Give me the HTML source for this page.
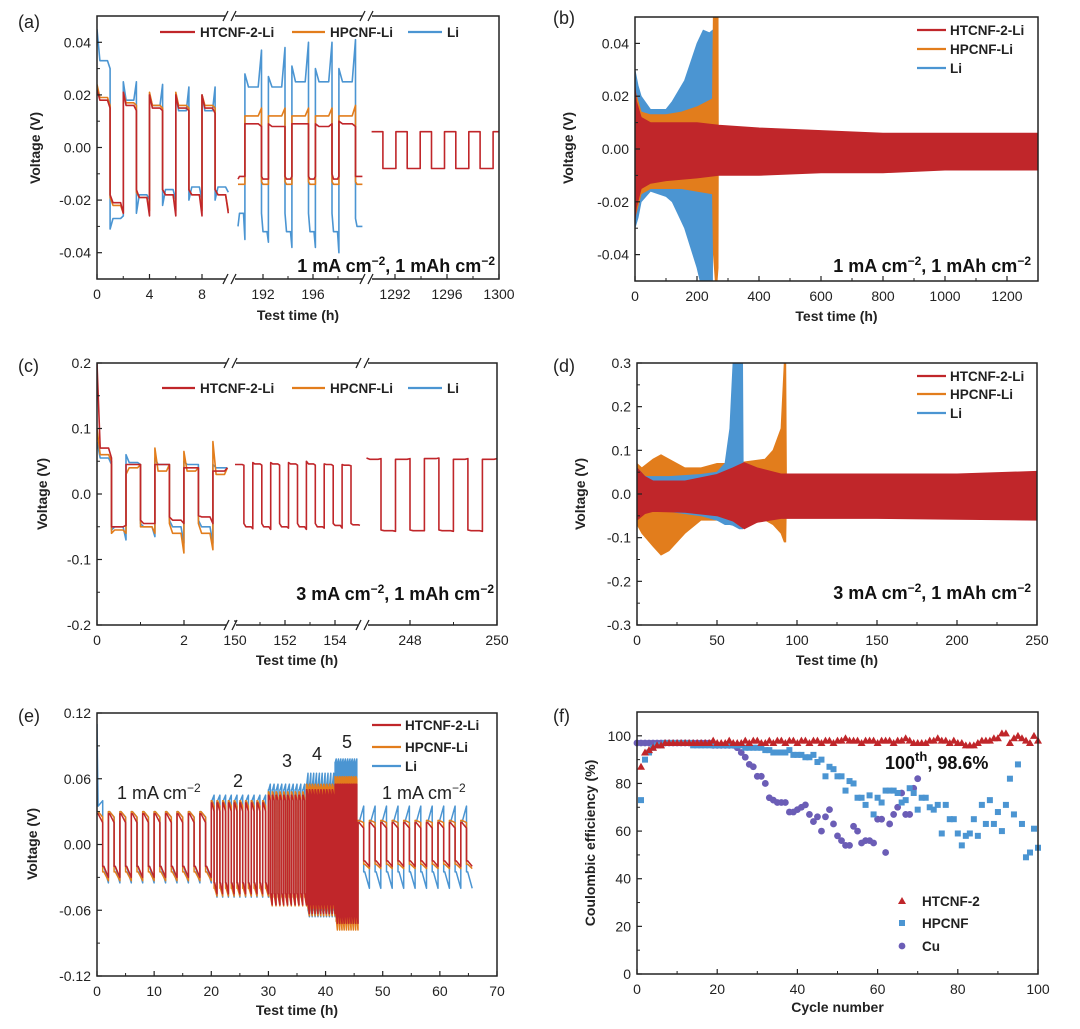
<!DOCTYPE html>
<html><head><meta charset="utf-8">
<style>
html,body{margin:0;padding:0;background:#fff;}
svg{display:block;font-family:"Liberation Sans",Arial,sans-serif;}
.tk{font-size:14px;fill:#222;}
.tt{font-size:14px;font-weight:bold;fill:#222;}
.lg{font-size:13.5px;font-weight:bold;fill:#222;}
.an{font-size:18px;font-weight:bold;fill:#111;}
.pl{font-size:18px;fill:#222;}
</style></head>
<body>
<svg id="fig" width="1080" height="1029" viewBox="0 0 1080 1029" xmlns="http://www.w3.org/2000/svg">
<rect width="1080" height="1029" fill="#fff"/>
<defs>
<clipPath id="ca"><rect x="97" y="16" width="402" height="264"/></clipPath>
<clipPath id="cb"><rect x="635" y="17" width="403" height="264"/></clipPath>
<clipPath id="cc"><rect x="97" y="363" width="400" height="262"/></clipPath>
<clipPath id="cd"><rect x="637" y="363" width="400" height="262"/></clipPath>
<clipPath id="ce"><rect x="97" y="713" width="400" height="263"/></clipPath>
</defs>
</svg>
<script>
// ---------- DATA ----------
const colHT='#c0262a', colHP='#e27d1c', colLi='#4b95d2', colCu='#6b5db6';
// panel a segment 1 (0-10 h), half-cycles [start, plateau, end]
const aHT1=[[0.022,0.018,0.015],[-0.018,-0.021,-0.025],[0.021,0.016,0.014],[-0.016,-0.019,-0.026],[0.020,0.015,0.014],[-0.016,-0.018,-0.026],[0.020,0.015,0.014],[-0.016,-0.018,-0.026],[0.020,0.015,0.013],[-0.016,-0.018,-0.025]];
const aHP1=[[0.024,0.019,0.016],[-0.019,-0.022,-0.025],[0.021,0.017,0.016],[-0.017,-0.019,-0.024],[0.021,0.016,0.015],[-0.016,-0.018,-0.024],[0.021,0.016,0.015],[-0.016,-0.018,-0.024],[0.020,0.016,0.015],[-0.016,-0.018,-0.024]];
const aLi1=[[0.045,0.033,0.030],[-0.031,-0.027,-0.026],[0.025,0.018,0.025],[-0.025,-0.018,-0.020],[0.020,0.016,0.024],[-0.022,-0.016,-0.020],[0.020,0.014,0.023],[-0.020,-0.015,-0.020],[0.020,0.014,0.023],[-0.020,-0.015,-0.017]];
// panel a segment 2 (190-200 h)
const aHT2=[[-0.012,-0.011,-0.011],[0.009,0.009,0.008],[-0.011,-0.012,-0.012],[0.009,0.008,0.008],[-0.011,-0.012,-0.011],[0.009,0.009,0.009],[-0.011,-0.012,-0.011],[0.009,0.008,0.009],[-0.010,-0.012,-0.011],[0.010,0.009,0.008],[-0.011,-0.011,-0.011]];
const aHP2=[[-0.014,-0.014,-0.014],[0.012,0.012,0.015],[-0.013,-0.014,-0.014],[0.012,0.012,0.015],[-0.013,-0.014,-0.014],[0.012,0.012,0.015],[-0.013,-0.014,-0.014],[0.012,0.012,0.015],[-0.013,-0.014,-0.014],[0.012,0.012,0.016],[-0.013,-0.014,-0.014]];
const aLi2=[[-0.030,-0.025,-0.035],[0.028,0.023,0.037],[-0.025,-0.032,-0.036],[0.027,0.023,0.038],[-0.025,-0.032,-0.038],[0.031,0.025,0.040],[-0.025,-0.032,-0.038],[0.030,0.025,0.040],[-0.025,-0.032,-0.040],[0.030,0.025,0.041],[-0.027,-0.030,-0.030]];
// panel a segment 3 (1290-1300 h)
const aHT3=[[0.006,0.006,0.006],[-0.008,-0.008,-0.008],[0.006,0.006,0.006],[-0.008,-0.008,-0.008],[0.006,0.006,0.006],[-0.008,-0.008,-0.008],[0.006,0.006,0.006],[-0.008,-0.008,-0.008],[0.006,0.006,0.006],[-0.008,-0.008,-0.008],[0.006,0.006,0.006]];
// panel b envelopes
const bHTt=[0,5,20,50,100,200,270,400,600,800,1000,1200,1300];
const bHTup=[0.024,0.018,0.012,0.010,0.010,0.010,0.009,0.008,0.007,0.006,0.006,0.006,0.006];
const bHTlo=[-0.027,-0.022,-0.015,-0.013,-0.012,-0.011,-0.010,-0.010,-0.009,-0.009,-0.008,-0.008,-0.008];
const bHPt=[0,20,50,100,150,200,250,253,262,268,269];
const bHPup=[0.022,0.014,0.013,0.013,0.014,0.016,0.019,0.055,0.055,0.055,0];
const bHPlo=[-0.026,-0.017,-0.015,-0.015,-0.015,-0.016,-0.017,-0.040,-0.055,-0.045,0];
const bLit=[0,10,20,50,100,120,140,160,200,220,240,250,252];
const bLiup=[0.030,0.024,0.020,0.015,0.015,0.018,0.022,0.026,0.040,0.045,0.044,0.045,0];
const bLilo=[-0.030,-0.026,-0.020,-0.016,-0.018,-0.020,-0.025,-0.030,-0.045,-0.055,-0.055,-0.050,0];
// panel c
const cHT1=[[0.200,0.070,0.055],[-0.050,-0.050,-0.048],[0.045,0.045,0.045],[-0.040,-0.045,-0.045],[0.045,0.045,0.045],[-0.035,-0.040,-0.045],[0.040,0.040,0.040],[-0.033,-0.035,-0.045],[0.035,0.035,0.040]];
const cHP1=[[0.100,0.060,0.050],[-0.060,-0.055,-0.060],[0.030,0.040,0.045],[-0.050,-0.050,-0.060],[0.070,0.035,0.045],[-0.045,-0.060,-0.090],[0.065,0.035,0.040],[-0.045,-0.060,-0.085],[0.080,0.030,0.040]];
const cLi1=[[0.080,0.055,0.045],[-0.055,-0.050,-0.070],[0.060,0.048,0.045],[-0.045,-0.050,-0.065],[0.055,0.045,0.045],[-0.040,-0.050,-0.075],[0.050,0.045,0.045],[-0.040,-0.050,-0.075],[0.045,0.040,0.040]];
const cHT2=[[0.045,0.045,0.044],[-0.045,-0.050,-0.053],[0.048,0.046,0.044],[-0.045,-0.050,-0.054],[0.048,0.046,0.044],[-0.045,-0.050,-0.052],[0.048,0.046,0.044],[-0.045,-0.050,-0.054],[0.050,0.046,0.044],[-0.045,-0.050,-0.052],[0.046,0.045,0.043],[-0.045,-0.048,-0.052],[0.045,0.044,0.043],[-0.045,-0.047,-0.048]];
const cHT3=[[0.055,0.053,0.054],[-0.055,-0.056,-0.057],[0.053,0.053,0.054],[-0.055,-0.056,-0.056],[0.054,0.054,0.055],[-0.055,-0.056,-0.057],[0.053,0.053,0.054],[-0.055,-0.056,-0.057],[0.053,0.053,0.054]];
// panel d envelopes
const dHTt=[0,5,10,30,50,60,67,75,90,100,150,200,250];
const dHTup=[0.060,0.040,0.030,0.030,0.045,0.060,0.072,0.060,0.046,0.046,0.046,0.046,0.052];
const dHTlo=[-0.060,-0.045,-0.040,-0.042,-0.050,-0.062,-0.080,-0.065,-0.056,-0.056,-0.056,-0.058,-0.060];
const dLit=[0,5,20,40,50,55,58,60,64,66,66.5];
const dLiup=[0.060,0.040,0.040,0.045,0.050,0.070,0.150,0.300,0.300,0.300,0];
const dLilo=[-0.060,-0.040,-0.040,-0.050,-0.060,-0.070,-0.070,-0.072,-0.080,-0.080,0];
const dHPt=[0,3,10,15,20,30,40,50,60,70,80,85,90,92,93,93.5];
const dHPup=[0.070,0.060,0.080,0.090,0.080,0.060,0.060,0.070,0.070,0.075,0.080,0.100,0.150,0.300,0.300,0];
const dHPlo=[-0.070,-0.090,-0.120,-0.140,-0.130,-0.090,-0.060,-0.060,-0.070,-0.070,-0.060,-0.070,-0.090,-0.110,-0.110,0];
// panel e: rate steps (mA cm-2), duration (h), per-series [posStart,posEnd,negStart,negEnd]
const eRates=[1,2,3,4,5,1];
const eHT=[[0.028,0.020,-0.020,-0.030],[0.038,0.030,-0.035,-0.045],[0.045,0.040,-0.045,-0.055],[0.050,0.045,-0.055,-0.063],[0.055,0.055,-0.065,-0.072],[0.020,0.015,-0.015,-0.020]];
const eHP=[[0.030,0.025,-0.025,-0.033],[0.040,0.035,-0.040,-0.047],[0.048,0.043,-0.048,-0.056],[0.055,0.052,-0.058,-0.065],[0.062,0.060,-0.070,-0.078],[0.022,0.020,-0.018,-0.022]];
const eLi=[[0.030,0.025,-0.020,-0.035],[0.040,0.045,-0.035,-0.048],[0.050,0.055,-0.045,-0.055],[0.055,0.065,-0.060,-0.066],[0.075,0.078,-0.070,-0.072],[0.020,0.035,-0.025,-0.040]];
const eInit=[0.035,0.040,0.110];
// panel f scatter
const fHT=[87,93,94,95,96,96,97,97,97,97,97,97,97,97,97,97,97,97,98,97,97,97,98,97,97,97,98,97,98,98,97,97,98,97,98,98,97,98,98,97,98,98,97,98,98,97,98,98,97,98,98,99,98,98,98,97,98,98,98,97,98,98,98,97,98,98,99,98,97,97,97,97,98,98,99,98,98,97,98,97,97,96,96,96,97,98,98,98,99,99,101,101,97,99,100,99,98,97,100,98];
const fHP=[73,90,93,95,96,96,97,97,97,97,97,97,97,96,96,96,96,96,96,96,96,96,96,96,96,96,95,95,95,95,95,94,94,93,93,93,93,94,92,92,92,91,91,92,89,90,83,87,86,83,83,77,81,80,74,74,71,75,67,74,72,77,77,77,76,72,73,78,76,69,74,74,70,69,71,59,71,65,65,59,54,58,59,65,58,71,63,73,63,68,60,71,82,67,88,63,49,51,61,53];
const fCu=[97,97,97,97,97,97,97,97,97,97,97,97,97,97,97,97,97,97,97,96,96,96,96,96,96,95,93,91,88,87,83,83,80,74,73,72,72,72,68,68,69,70,71,67,64,66,60,66,69,63,58,56,54,54,62,60,55,56,56,55,65,65,51,63,67,70,76,67,67,78,82];
const fTicksY=[0,20,40,60,80,100];
const fTicksX=[0,20,40,60,80,100];

// ---------- HELPERS ----------
const NS='http://www.w3.org/2000/svg';
const root=document.getElementById('fig');
function mk(tag,attrs,parent){const e=document.createElementNS(NS,tag);for(const k in attrs)e.setAttribute(k,attrs[k]);(parent||root).appendChild(e);return e;}
function ymapF(T,B,lo,hi){return v=>T+(hi-v)/(hi-lo)*(B-T);}
function linF(L,R,lo,hi){return t=>L+(t-lo)/(hi-lo)*(R-L);}

function drawWave(g,xm,ym,t0,posDur,negDur,halves,color,name){
  let d='',t=t0;
  halves.forEach((h,i)=>{
    const dur=h[0]>=0?posDur:negDur;const t1=t+dur;
    const pts=[[t,h[0]],[t+0.22*dur,h[1]],[t+0.8*dur,h[1]],[t1,h[2]]];
    pts.forEach((p,j)=>{d+=(i===0&&j===0?'M':'L')+xm(p[0]).toFixed(1)+','+ym(p[1]).toFixed(1);});
    t=t1;
  });
  const p=mk('path',{d:d,fill:'none',stroke:color,'stroke-width':1.6,'stroke-linejoin':'round'},g);
  
  
}
function drawEnv(g,xm,ym,ts,up,lo,color,name){
  let d='';
  ts.forEach((t,i)=>{d+=(i?'L':'M')+xm(t).toFixed(1)+','+ym(up[i]).toFixed(1);});
  for(let i=ts.length-1;i>=0;i--){d+='L'+xm(ts[i]).toFixed(1)+','+ym(lo[i]).toFixed(1);}
  const p=mk('path',{d:d+'Z',fill:color,stroke:color,'stroke-width':0.8},g);
  
  
}
function frame(id,L,R,T,B,yticks,ym,ylab,xticks,xm,xlab,minorX,minorY,titleX,titleY,ytitle,xtitleY,panelX,panelY){
  const g=mk('g',{});
  
  
  yticks.forEach((v,i)=>{
    const y=ym(v);
    const tk=mk('line',{x1:L,x2:L+5,y1:y,y2:y,stroke:'#222','stroke-width':1.2},g);
    
    
    const tx=mk('text',{x:L-6,y:y+5,'text-anchor':'end',class:'tk'},g);
    
    
    tx.textContent=ylab[i];
  });
  minorY.forEach(v=>{
    const y=ym(v);
    const tk=mk('line',{x1:L,x2:L+3,y1:y,y2:y,stroke:'#222','stroke-width':1},g);
    
    
  });
  xticks.forEach(v=>{
    const x=xm(v);
    const tk=mk('line',{x1:x,x2:x,y1:B,y2:B-5,stroke:'#222','stroke-width':1.2},g);
    
    
    const tx=mk('text',{x:x,y:B+20,'text-anchor':'middle',class:'tk'},g);
    
    
    tx.textContent=v;
  });
  minorX.forEach(v=>{
    const x=xm(v);
    const tk=mk('line',{x1:x,x2:x,y1:B,y2:B-3,stroke:'#222','stroke-width':1},g);
    
    
  });
  const bx=mk('rect',{x:L,y:T,width:R-L,height:B-T,fill:'none',stroke:'#222','stroke-width':1.5},g);
  
  
  const yt=mk('text',{x:titleX,y:titleY,transform:`rotate(-90 ${titleX} ${titleY})`,'text-anchor':'middle',class:'tt'},g);
  
  
  yt.textContent=ytitle;
  const xt=mk('text',{x:(L+R)/2,y:xtitleY,'text-anchor':'middle',class:'tt'},g);
  
  
  xt.textContent=xlab;
  const pl=mk('text',{x:panelX,y:panelY,class:'pl'},g);
  
  
  pl.textContent='('+id+')';
  return g;
}
function breakMark(x,T,B){
  [T,B].forEach(y=>{
    const w=mk('rect',{x:x-5,y:y-3,width:10,height:6,fill:'#fff'});
    
    
    const p=mk('path',{d:`M${x-7},${y+5}L${x-2},${y-5}M${x+1},${y+5}L${x+6},${y-5}`,stroke:'#222','stroke-width':1.3,fill:'none'});
    
    
  });
}
function hLegend(items,y){
  items.forEach(it=>{
    const l=mk('line',{x1:it[0],x2:it[1],y1:y,y2:y,stroke:it[3],'stroke-width':2.2});
    
    
    const t=mk('text',{x:it[1]+5,y:y+5,class:'lg'});
    
    
    t.textContent=it[2];
  });
}
function vLegend(x1,x2,ys,labels,colors){
  ys.forEach((y,i)=>{
    const l=mk('line',{x1:x1,x2:x2,y1:y,y2:y,stroke:colors[i],'stroke-width':2.2});
    
    
    const t=mk('text',{x:x2+4,y:y+5,class:'lg'});
    
    
    t.textContent=labels[i];
  });
}
function annot(xr,y,a,b){
  const t=mk('text',{x:xr,y:y,'text-anchor':'end',class:'an'});
  
  
  t.innerHTML=`${a} mA cm<tspan dy="-7" font-size="12">−2</tspan><tspan dy="7">, ${b} mAh cm</tspan><tspan dy="-7" font-size="12">−2</tspan>`;
}
function plain(x,y,txt,cls,name,extra){
  const t=mk('text',Object.assign({x:x,y:y,class:cls},extra||{}));
  
  
  t.innerHTML=txt;
}
const series=['HTCNF-2-Li','HPCNF-Li','Li'];

// ---------- PANEL A ----------
(function(){
  const ym=ymapF(16,279,-0.05,0.05);
  const xm=t=>t<100?97+13.125*t:(t<1000?263+12.5*(t-192):395+13*(t-1292));
  const g=mk('g',{'clip-path':'url(#ca)'});
  
  
  drawWave(g,xm,ym,0,1,1,aLi1,colLi,'li-trace-seg1');
  drawWave(g,xm,ym,0,1,1,aHP1,colHP,'hpcnf-trace-seg1');
  drawWave(g,xm,ym,0,1,1,aHT1,colHT,'htcnf-trace-seg1');
  drawWave(g,xm,ym,190.0,1.33,0.55,aLi2,colLi,'li-trace-seg2');
  drawWave(g,xm,ym,190.0,1.33,0.55,aHP2,colHP,'hpcnf-trace-seg2');
  drawWave(g,xm,ym,190.0,1.33,0.55,aHT2,colHT,'htcnf-trace-seg2');
  drawWave(g,xm,ym,1290.2,0.87,1.0,aHT3,colHT,'htcnf-trace-seg3');
  frame('a',97,499,16,279,[0.04,0.02,0,-0.02,-0.04],ym,['0.04','0.02','0.00','-0.02','-0.04'],[0,4,8,192,196,1292,1296,1300],xm,'Test time (h)',[2,6,194,198,1294,1298],[0.03,0.01,-0.01,-0.03],40,148,'Voltage (V)',320,18,28);
  breakMark(230,16,279);breakMark(367,16,279);
  hLegend([[160,195,'HTCNF-2-Li',colHT],[292,325,'HPCNF-Li',colHP],[408,442,'Li',colLi]],32);
  annot(495,272,1,1);
})();

// ---------- PANEL B ----------
(function(){
  const ym=ymapF(17,281,-0.05,0.05);
  const xm=linF(635,1038,0,1300);
  const g=mk('g',{'clip-path':'url(#cb)'});
  
  
  drawEnv(g,xm,ym,bLit,bLiup,bLilo,colLi,'li-envelope');
  drawEnv(g,xm,ym,bHPt,bHPup,bHPlo,colHP,'hpcnf-envelope');
  drawEnv(g,xm,ym,bHTt,bHTup,bHTlo,colHT,'htcnf-envelope');
  frame('b',635,1038,17,281,[0.04,0.02,0,-0.02,-0.04],ym,['0.04','0.02','0.00','-0.02','-0.04'],[0,200,400,600,800,1000,1200],xm,'Test time (h)',[100,300,500,700,900,1100],[0.03,0.01,-0.01,-0.03],573,148,'Voltage (V)',321,553,24);
  vLegend(917,946,[30,49,68],series,[colHT,colHP,colLi]);
  annot(1031,272,1,1);
})();

// ---------- PANEL C ----------
(function(){
  const ym=ymapF(363,625,-0.2,0.2);
  const xm=t=>t<100?97+43.5*t:(t<200?235+25*(t-150):410+43.5*(t-248));
  const g=mk('g',{'clip-path':'url(#cc)'});
  
  
  drawWave(g,xm,ym,0,0.333,0.333,cLi1,colLi,'li-trace-seg1');
  drawWave(g,xm,ym,0,0.333,0.333,cHP1,colHP,'hpcnf-trace-seg1');
  drawWave(g,xm,ym,0,0.333,0.333,cHT1,colHT,'htcnf-trace-seg1');
  drawWave(g,xm,ym,150,0.357,0.357,cHT2,colHT,'htcnf-trace-seg2');
  drawWave(g,xm,ym,247.0,0.333,0.333,cHT3,colHT,'htcnf-trace-seg3');
  frame('c',97,497,363,625,[0.2,0.1,0,-0.1,-0.2],ym,['0.2','0.1','0.0','-0.1','-0.2'],[0,2,150,152,154,248,250],xm,'Test time (h)',[1,151,153,249],[0.15,0.05,-0.05,-0.15],47,494,'Voltage (V)',665,18,372);
  breakMark(231,363,625);breakMark(363,363,625);
  hLegend([[162,195,'HTCNF-2-Li',colHT],[292,325,'HPCNF-Li',colHP],[408,442,'Li',colLi]],388);
  annot(494,600,3,1);
})();

// ---------- PANEL D ----------
(function(){
  const ym=ymapF(363,625,-0.3,0.3);
  const xm=linF(637,1037,0,250);
  const g=mk('g',{'clip-path':'url(#cd)'});
  
  
  drawEnv(g,xm,ym,dHPt,dHPup,dHPlo,colHP,'hpcnf-envelope');
  drawEnv(g,xm,ym,dLit,dLiup,dLilo,colLi,'li-envelope');
  drawEnv(g,xm,ym,dHTt,dHTup,dHTlo,colHT,'htcnf-envelope');
  frame('d',637,1037,363,625,[0.3,0.2,0.1,0,-0.1,-0.2,-0.3],ym,['0.3','0.2','0.1','0.0','-0.1','-0.2','-0.3'],[0,50,100,150,200,250],xm,'Test time (h)',[25,75,125,175,225],[0.25,0.15,0.05,-0.05,-0.15,-0.25],585,494,'Voltage (V)',665,553,372);
  vLegend(917,946,[376,394,413],series,[colHT,colHP,colLi]);
  annot(1031,599,3,1);
})();

// ---------- PANEL E ----------
(function(){
  const ym=ymapF(713,976,-0.12,0.12);
  const xm=linF(97,497,0,70);
  const g=mk('g',{'clip-path':'url(#ce)'});
  
  
  function build(arr,first){
    const halves=[];const durs=[];
    eRates.forEach((r,s)=>{
      for(let k=0;k<20;k++){
        const v=arr[s];
        if(k%2===0)halves.push([v[0],v[0],v[1]]);else halves.push([v[2],v[2],v[3]]);
        durs.push(1/r);
      }
    });
    if(first)halves[0]=[first[2],first[0],first[1]];
    return [halves,durs];
  }
  [[eLi,colLi,'li-trace',eInit],[eHP,colHP,'hpcnf-trace',null],[eHT,colHT,'htcnf-trace',null]].forEach(s=>{
    const hd=build(s[0],s[3]);
    let d='',t=0;
    hd[0].forEach((h,i)=>{
      const dur=hd[1][i];
      const pts=[[t,h[0]],[t+0.2*dur,h[1]],[t+dur,h[2]]];
      pts.forEach((p,j)=>{d+=(i===0&&j===0?'M':'L')+xm(p[0]).toFixed(1)+','+ym(p[1]).toFixed(1);});
      t+=dur;
    });
    const p=mk('path',{d:d,fill:'none',stroke:s[1],'stroke-width':1.5,'stroke-linejoin':'round'},g);
    
    
  });
  frame('e',97,497,713,976,[0.12,0.06,0,-0.06,-0.12],ym,['0.12','0.06','0.00','-0.06','-0.12'],[0,10,20,30,40,50,60,70],xm,'Test time (h)',[5,15,25,35,45,55,65],[0.09,0.03,-0.03,-0.09],37,844,'Voltage (V)',1015,18,722);
  vLegend(372,401,[725,747,766],series,[colHT,colHP,colLi]);
  plain(117,799,'1 mA cm<tspan dy="-7" font-size="12">−2</tspan>','pl','rate-label-1',{});
  plain(382,799,'1 mA cm<tspan dy="-7" font-size="12">−2</tspan>','pl','rate-label-1-return',{});
  plain(233,787,'2','pl','rate-label-2',{});
  plain(282,767,'3','pl','rate-label-3',{});
  plain(312,760,'4','pl','rate-label-4',{});
  plain(342,748,'5','pl','rate-label-5',{});
})();

// ---------- PANEL F ----------
(function(){
  const ym=ymapF(712,974,0,110);
  const xm=linF(637,1038,0,100);
  const g=mk('g',{});
  
  
  fCu.forEach((v,i)=>{
    const c=mk('circle',{cx:xm(i),cy:ym(v),r:3.4,fill:colCu},g);
    
    
  });
  fHP.forEach((v,i)=>{
    const x=xm(i+1),y=ym(v);
    const r=mk('rect',{x:x-3,y:y-3,width:6,height:6,fill:colLi},g);
    
    
  });
  fHT.forEach((v,i)=>{
    const x=xm(i+1),y=ym(v);
    const p=mk('path',{d:`M${x},${y-4}L${x+4},${y+3}L${x-4},${y+3}Z`,fill:colHT},g);
    
    
  });
  frame('f',637,1038,712,974,fTicksY,ym,fTicksY.map(String),fTicksX,xm,'Cycle number',[10,30,50,70,90],[10,30,50,70,90],595,843,'Coulombic efficiency (%)',1012,553,722);
  const ly=[901,923,946];
  const m1=mk('path',{d:'M902,897L906,904L898,904Z',fill:colHT});
  
  
  const m2=mk('rect',{x:899,y:920,width:6,height:6,fill:colLi});
  
  
  const m3=mk('circle',{cx:902,cy:946,r:3.4,fill:colCu});
  
  
  ['HTCNF-2','HPCNF','Cu'].forEach((s,i)=>{
    plain(922,ly[i]+5,s,'lg','legend-entry',{});
  });
  plain(885,769,'100<tspan dy="-8" font-size="13">th</tspan><tspan dy="8">, 98.6%</tspan>','an','cycle-100-annotation',{fill:'#b8232a','font-size':'22px'});
})();
</script>
</body></html>
